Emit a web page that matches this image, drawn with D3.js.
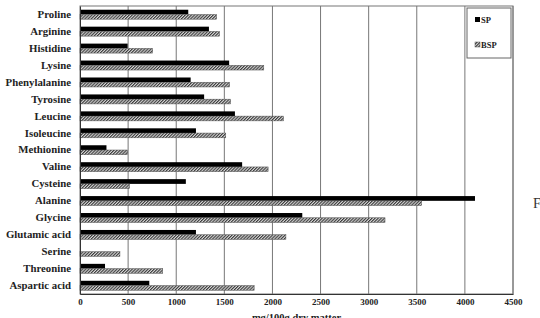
<!DOCTYPE html>
<html>
<head>
<meta charset="utf-8">
<script src="https://cdn.jsdelivr.net/npm/d3@7"></script>
<style>
  body { margin: 0; background: #fff; }
  svg { display: block; }
  text { font-family: "Liberation Serif", "Times New Roman", serif; }
</style>
</head>
<body>
<div id="chart"></div>
<script>
const aminoAcids = ["Proline", "Arginine", "Histidine", "Lysine", "Phenylalanine", "Tyrosine",
  "Leucine", "Isoleucine", "Methionine", "Valine", "Cysteine", "Alanine", "Glycine",
  "Glutamic acid", "Serine", "Threonine", "Aspartic acid"];
const spValues = [1125, 1340, 495, 1550, 1150, 1290, 1610, 1205, 275, 1685, 1100, 4105, 2310, 1205, 0, 260, 720];
const bspValues = [1420, 1450, 755, 1910, 1555, 1565, 2115, 1515, 495, 1955, 515, 3550, 3170, 2140, 415, 860, 1810];
const seriesNames = ["SP", "BSP"];
const xTicks = [0, 500, 1000, 1500, 2000, 2500, 3000, 3500, 4000, 4500];

const width = 540, height = 318;
const mLeft = 80, mRight = 513, mTop = 6, mBottom = 294;

const svg = d3.select("#chart").append("svg")
  .attr("width", width)
  .attr("height", height);

let defs = svg.append("defs");
let pat = defs.append("pattern")
  .attr("id", "hatch")
  .attr("patternUnits", "userSpaceOnUse")
  .attr("width", 2.2)
  .attr("height", 2.2)
  .attr("patternTransform", "rotate(45)");
pat.append("rect").attr("width", 2.2).attr("height", 2.2).attr("fill", "#d6d6d6");
pat.append("rect").attr("width", 1.1).attr("height", 2.2).attr("fill", "#3a3a3a");

const x = d3.scaleLinear().domain([0, 4500]).range([mLeft, mRight]);
const y = d3.scaleBand().domain(aminoAcids).range([mTop, mBottom]).paddingInner(0.44).paddingOuter(0.22);
const sub = d3.scaleBand().domain(seriesNames).range([0, y.bandwidth()]);

// gridlines
svg.append("g")
  .selectAll("line")
  .data(xTicks.slice(1))
  .join("line")
  .attr("x1", d => x(d))
  .attr("x2", d => x(d))
  .attr("y1", mTop)
  .attr("y2", mBottom)
  .attr("stroke", "#777")
  .attr("stroke-width", 1);

// frame
svg.append("rect")
  .attr("x", mLeft)
  .attr("y", mTop)
  .attr("width", mRight - mLeft)
  .attr("height", mBottom - mTop)
  .attr("fill", "none")
  .attr("stroke", "#777")
  .attr("stroke-width", 1);

// bars
let rows = svg.append("g").selectAll("g")
  .data(aminoAcids)
  .join("g")
  .attr("transform", d => `translate(0,${y(d)})`);

rows.append("rect")
  .attr("x", x(0))
  .attr("y", sub("SP"))
  .attr("height", sub.bandwidth())
  .attr("width", (d, i) => x(spValues[i]) - x(0))
  .attr("fill", "#000");

rows.append("rect")
  .attr("x", x(0))
  .attr("y", sub("BSP"))
  .attr("height", sub.bandwidth())
  .attr("width", (d, i) => x(bspValues[i]) - x(0))
  .attr("fill", "url(#hatch)")
  .attr("stroke", "#555")
  .attr("stroke-width", 0.5);

// axes
const xAxis = svg.append("g")
  .attr("transform", `translate(0,${mBottom})`)
  .call(d3.axisBottom(x).tickValues(xTicks).tickSize(0).tickPadding(5).tickFormat(d3.format("d")));
xAxis.select(".domain").attr("stroke", "#333");
xAxis.selectAll("text")
  .attr("font-family", "Liberation Serif, serif")
  .attr("font-size", 9)
  .attr("font-weight", "bold")
  .attr("fill", "#222");

const yAxis = svg.append("g")
  .attr("transform", `translate(${mLeft},0)`)
  .call(d3.axisLeft(y).tickSize(0).tickPadding(9));
yAxis.select(".domain").attr("stroke", "#333");
yAxis.selectAll("text")
  .attr("font-family", "Liberation Serif, serif")
  .attr("font-size", 10.8)
  .attr("font-weight", "bold")
  .attr("fill", "#222");

svg.append("text")
  .attr("x", (mLeft + mRight) / 2)
  .attr("y", 321)
  .attr("text-anchor", "middle")
  .attr("font-size", 10.5)
  .attr("font-weight", "bold")
  .attr("fill", "#222")
  .text("mg/100g dry matter");

// legend
let legend = svg.append("g").attr("transform", "translate(467,8)");
legend.append("rect")
  .attr("width", 44)
  .attr("height", 50)
  .attr("fill", "#fff")
  .attr("stroke", "#666");
seriesNames.forEach((s, i) => {
  legend.append("rect")
    .attr("x", 8)
    .attr("y", 9 + i * 25)
    .attr("width", 5)
    .attr("height", 5)
    .attr("fill", i == 0 ? "#000" : "url(#hatch)")
    .attr("stroke", i == 0 ? "none" : "#555")
    .attr("stroke-width", 0.5);
  legend.append("text")
    .attr("x", 14)
    .attr("y", 15 + i * 25)
    .attr("font-size", 8.5)
    .attr("font-weight", "bold")
    .attr("fill", "#222")
    .text(s);
});

// stray caption letter at right edge
svg.append("text")
  .attr("x", 533)
  .attr("y", 208)
  .attr("font-size", 14)
  .attr("fill", "#333")
  .text("F");
</script>
</body>
</html>
